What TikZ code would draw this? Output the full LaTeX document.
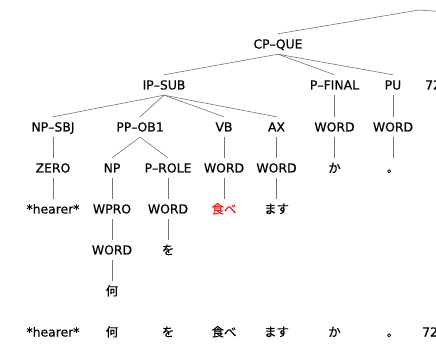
\documentclass[tikz,border=0pt]{standalone}
\usepackage{fontspec}
\setmainfont{DejaVu Sans}[FakeBold=0.4]
\newfontfamily\jp{Noto Sans CJK JP}[FakeBold=0.3]
\begin{document}
\begin{tikzpicture}[x=1pt,y=-1pt,
  lbl/.style={inner sep=0pt,minimum height=20pt,text height=9pt,text depth=0pt,
    font=\fontsize{12.4}{14}\selectfont},
  jlbl/.style={lbl,font=\fontsize{12.4}{14}\selectfont\jp},
  redj/.style={jlbl,text={rgb,255:red,240;green,20;blue,20}},
  branch/.style={draw=black!55,line width=0.6pt}]
\useasboundingbox (0,0) rectangle (436,344);
\clip (0,0) rectangle (436,344);

% tree nodes, one row per level
\coordinate (apex) at (419,10);
\coordinate (offright) at (446,12);
\node[lbl] (cpque) at (278,44) {CP–QUE};

\node[lbl] (ipsub) at (164,85) {IP–SUB};
\node[lbl] (pfinal) at (334.5,85) {P–FINAL};
\node[lbl] (pu) at (393,85) {PU};
\node[lbl,anchor=west] (num) at (425,85) {72};

\node[lbl] (npsbj) at (53,127) {NP–SBJ};
\node[lbl] (ppob) at (140,127) {PP–OB1};
\node[lbl] (vb) at (224,127) {VB};
\node[lbl] (ax) at (276.5,127) {AX};
\node[lbl] (wka) at (334.5,127) {WORD};
\node[lbl] (wpu) at (393,127) {WORD};

\node[lbl] (zero) at (53,168) {ZERO};
\node[lbl] (np) at (112,168) {NP};
\node[lbl] (prole) at (168,168) {P–ROLE};
\node[lbl] (wvb) at (224,168) {WORD};
\node[lbl] (wax) at (276.5,168) {WORD};
\node[jlbl] (ka) at (334.5,168) {か};
\node[jlbl] (maru) at (393,168) {。};

\node[lbl] (hearer) at (53,209) {*hearer*};
\node[lbl] (wpro) at (112,209) {WPRO};
\node[lbl] (wwo) at (168,209) {WORD};
\node[redj] (tabe) at (224,209) {食べ};
\node[jlbl] (masu) at (276.5,209) {ます};

\node[lbl] (wnan) at (112,250) {WORD};
\node[jlbl] (wo) at (168,250) {を};

\node[jlbl] (nan) at (112,291) {何};

% the sentence, word by word
\node[lbl] (s1) at (53,332) {*hearer*};
\node[jlbl] (s2) at (112,332) {何};
\node[jlbl] (s3) at (168,332) {を};
\node[jlbl] (s4) at (224,332) {食べ};
\node[jlbl] (s5) at (276.5,332) {ます};
\node[jlbl] (s6) at (334.5,332) {か};
\node[jlbl] (s7) at (393,332) {。};
\node[lbl,anchor=west] (s8) at (422,332) {72};

% branches
\draw[branch] (apex) -- (cpque.north);
\draw[branch] (apex) -- (offright);
\foreach \c in {ipsub,pfinal,pu} \draw[branch] (cpque.south) -- (\c.north);
\foreach \c in {npsbj,ppob,vb,ax} \draw[branch] (ipsub.south) -- (\c.north);
\draw[branch] (pfinal.south) -- (wka.north);
\draw[branch] (pu.south) -- (wpu.north);
\draw[branch] (npsbj.south) -- (zero.north);
\draw[branch] (ppob.south) -- (np.north);
\draw[branch] (ppob.south) -- (prole.north);
\draw[branch] (vb.south) -- (wvb.north);
\draw[branch] (ax.south) -- (wax.north);
\draw[branch] (wka.south) -- (ka.north);
\draw[branch] (wpu.south) -- (maru.north);
\draw[branch] (zero.south) -- (hearer.north);
\draw[branch] (np.south) -- (wpro.north);
\draw[branch] (prole.south) -- (wwo.north);
\draw[branch] (wvb.south) -- (tabe.north);
\draw[branch] (wax.south) -- (masu.north);
\draw[branch] (wpro.south) -- (wnan.north);
\draw[branch] (wwo.south) -- (wo.north);
\draw[branch] (wnan.south) -- (nan.north);
\end{tikzpicture}
\end{document}
